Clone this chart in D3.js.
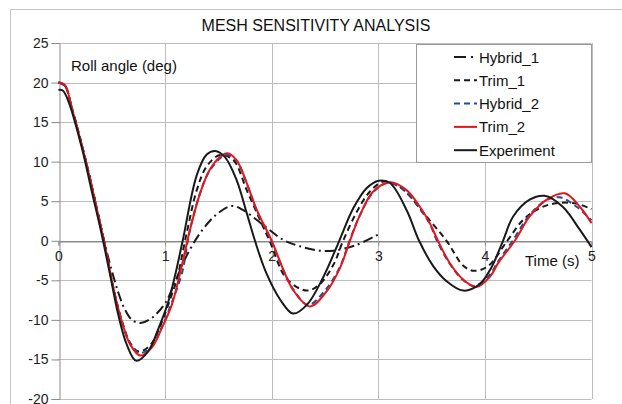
<!DOCTYPE html>
<html>
<head>
<meta charset="utf-8">
<script src="https://cdn.jsdelivr.net/npm/d3@7"></script>
<style>
  html, body { margin: 0; padding: 0; background: #fff; }
  svg { display: block; font-family: "Liberation Sans", Arial, sans-serif; }
</style>
</head>
<body>
<svg id="chart" width="622" height="404"></svg>
<script>
// Roll angle decay: time (s) and roll angle (deg) for each run
const hybrid1T = [0, 0.06, 0.125, 0.25, 0.344, 0.44, 0.5, 0.56, 0.62, 0.69, 0.77, 0.87, 1.0, 1.1, 1.19, 1.33, 1.48, 1.625, 1.73, 1.92, 2.11, 2.265, 2.45, 2.58, 2.8, 3.0];
const hybrid1V = [20, 19.6, 16.8, 10.4, 5.0, -0.7, -3.8, -6.5, -8.6, -10.0, -10.4, -9.8, -7.9, -5.0, -2.2, 1.0, 3.3, 4.4, 3.9, 2.0, 0.1, -0.7, -1.25, -1.25, -0.5, 0.8];

const trim1T = [0, 0.06, 0.125, 0.25, 0.344, 0.44, 0.515, 0.594, 0.672, 0.75, 0.86, 0.96, 1.06, 1.11, 1.203, 1.297, 1.39, 1.515, 1.64, 1.766, 1.89, 1.98, 2.14, 2.33, 2.45, 2.58, 2.67, 2.8, 2.92, 3.05, 3.18, 3.3, 3.45, 3.64, 3.8, 3.9, 4.03, 4.21, 4.36, 4.51, 4.67, 4.86, 5.0];
const trim1V = [20, 19.6, 16.8, 10.5, 5.0, -0.9, -6.0, -10.1, -12.9, -14.0, -13.2, -10.6, -6.9, -4.9, 1.0, 6.4, 9.4, 10.85, 10.2, 6.4, 2.65, 0, -4.8, -6.3, -5.5, -3.0, 0, 3.7, 6.2, 7.5, 7.0, 5.6, 3.1, 0, -3.2, -3.8, -3.2, 0, 2.65, 4.1, 4.75, 4.7, 4.0];

const hybrid2T = [0, 0.06, 0.125, 0.25, 0.344, 0.44, 0.515, 0.594, 0.672, 0.755, 0.87, 0.97, 1.06, 1.16, 1.228, 1.325, 1.42, 1.57, 1.67, 1.766, 1.86, 1.995, 2.11, 2.2, 2.34, 2.5, 2.64, 2.73, 2.83, 2.95, 3.09, 3.24, 3.38, 3.48, 3.55, 3.67, 3.79, 3.9, 4.04, 4.12, 4.26, 4.41, 4.56, 4.7, 4.86, 5.0];
const hybrid2V = [20, 19.6, 16.8, 10.4, 5.0, -0.9, -6.0, -10.2, -13.0, -14.2, -13.4, -10.9, -7.9, -4.0, 1.1, 5.9, 8.9, 10.85, 10.1, 7.2, 3.8, 0, -3.7, -6.1, -8.1, -6.3, -3.3, 0, 3.3, 6.1, 7.3, 6.4, 4.2, 2.2, 0, -2.9, -4.9, -5.7, -4.4, -2.7, 0, 3.1, 5.0, 5.5, 4.3, 2.6];

const trim2T = [0, 0.06, 0.125, 0.25, 0.344, 0.44, 0.515, 0.594, 0.672, 0.766, 0.875, 0.97, 1.063, 1.14, 1.234, 1.328, 1.42, 1.515, 1.584, 1.67, 1.766, 1.86, 2.0, 2.11, 2.2, 2.359, 2.515, 2.64, 2.734, 2.83, 2.95, 3.11, 3.265, 3.39, 3.484, 3.56, 3.67, 3.796, 3.92, 4.05, 4.125, 4.28, 4.42, 4.58, 4.75, 4.89, 5.0];
const trim2V = [20, 19.7, 16.75, 10.4, 4.96, -0.9, -6.0, -10.2, -13.1, -14.5, -13.5, -11.0, -8.1, -4.1, 1.4, 6.0, 9.0, 10.6, 11.07, 10.2, 7.3, 3.9, 0, -3.7, -6.2, -8.3, -6.4, -3.45, 0, 3.3, 6.2, 7.4, 6.4, 4.3, 2.2, 0, -2.8, -4.9, -5.85, -4.5, -2.8, 0, 3.07, 5.2, 6.0, 4.3, 2.23];

const experimentT = [0, 0.04, 0.094, 0.22, 0.313, 0.406, 0.484, 0.56, 0.64, 0.728, 0.84, 0.94, 1.03, 1.1, 1.165, 1.297, 1.39, 1.469, 1.56, 1.67, 1.766, 1.843, 1.95, 2.08, 2.2, 2.33, 2.48, 2.634, 2.765, 2.89, 3.005, 3.11, 3.265, 3.383, 3.515, 3.64, 3.796, 3.95, 4.06, 4.17, 4.265, 4.42, 4.56, 4.73, 4.89, 5.0];
const experimentV = [19.07, 19.0, 17.6, 11.7, 6.2, 0.76, -4.3, -9.3, -13.1, -15.15, -14.0, -11.0, -7.7, -4.0, 0, 8.3, 10.9, 11.36, 10.6, 7.7, 3.5, 0, -4.1, -7.45, -9.2, -8.1, -4.7, 0, 4.1, 6.65, 7.6, 7.3, 3.9, 0, -3.2, -5.1, -6.3, -5.5, -3.4, 0, 3.07, 5.2, 5.68, 4.3, 1.4, -0.8];

const seriesNames = ["Hybrid_1", "Trim_1", "Hybrid_2", "Trim_2", "Experiment"];
const xTicks = [0, 1, 2, 3, 4, 5];
const yTicks = [-20, -15, -10, -5, 0, 5, 10, 15, 20, 25];

const chartTitle = "MESH SENSITIVITY ANALYSIS";
const yTitle = "Roll angle (deg)";
const xTitle = "Time (s)";

const series = [
  { name: seriesNames[0], t: hybrid1T, v: hybrid1V, color: "#1a1a1a", dash: "10,4,2,4" },
  { name: seriesNames[1], t: trim1T, v: trim1V, color: "#1a1a1a", dash: "6,4" },
  { name: seriesNames[2], t: hybrid2T, v: hybrid2V, color: "#1f4e8c", dash: "6,4" },
  { name: seriesNames[3], t: trim2T, v: trim2V, color: "#e3161c", dash: null },
  { name: seriesNames[4], t: experimentT, v: experimentV, color: "#1a1a1a", dash: null }
];

const svg = d3.select("#chart");
const fontFamily = "Liberation Sans, Arial, sans-serif";

// outer chart frame
svg.append("rect")
  .attr("x", 10.5).attr("y", 9.5)
  .attr("width", 700).attr("height", 500)
  .attr("fill", "none").attr("stroke", "#c6c6c6").attr("stroke-width", 1);

const x = d3.scaleLinear().domain([0, 5]).range([58.5, 591.5]);
const y = d3.scaleLinear().domain([-20, 25]).range([399, 43]);

// gridlines
const grid = svg.append("g");
grid.selectAll("line.h").data(yTicks).join("line")
  .attr("x1", x(0)).attr("x2", x(5))
  .attr("y1", d => Math.round(y(d)) + 0.5).attr("y2", d => Math.round(y(d)) + 0.5)
  .attr("stroke", d => d === 0 ? "#8a8a8a" : "#bdbdbd").attr("stroke-width", 1);
grid.selectAll("line.v").data(xTicks.slice(1)).join("line")
  .attr("x1", d => Math.round(x(d)) + 0.5).attr("x2", d => Math.round(x(d)) + 0.5)
  .attr("y1", y(25)).attr("y2", y(-20))
  .attr("stroke", "#bdbdbd").attr("stroke-width", 1);

// y axis
const yAxis = svg.append("g")
  .attr("transform", `translate(${Math.round(x(0)) + 0.5},0)`)
  .call(d3.axisLeft(y).tickValues(yTicks).tickSize(8).tickPadding(3).tickFormat(d => String(d)));
yAxis.select(".domain").attr("stroke", "#8a8a8a");
yAxis.selectAll(".tick line").attr("stroke", "#8a8a8a");
yAxis.selectAll("text").attr("font-size", 14).attr("fill", "#222")
  .attr("font-family", fontFamily);

// x axis drawn along the zero line
const xAxis = svg.append("g")
  .attr("transform", `translate(0,${Math.round(y(0)) + 0.5})`)
  .call(d3.axisBottom(x).tickValues(xTicks).tickSize(4).tickPadding(6).tickFormat(d => String(d)));
xAxis.select(".domain").attr("stroke", "#8a8a8a");
xAxis.selectAll(".tick line").attr("stroke", "#8a8a8a");
xAxis.selectAll("text").attr("font-size", 14).attr("fill", "#222")
  .attr("font-family", fontFamily);

// series lines
const line = d3.line()
  .x(d => x(d[0]))
  .y(d => y(d[1]))
  .curve(d3.curveCatmullRom.alpha(0.5));

svg.append("g").selectAll("path").data(series).join("path")
  .attr("d", s => line(s.t.map((t, i) => [t, s.v[i]])))
  .attr("fill", "none")
  .attr("stroke", s => s.color)
  .attr("stroke-width", 2)
  .attr("stroke-dasharray", s => s.dash)
  .attr("stroke-linejoin", "round");

// titles
svg.append("text").attr("x", 316).attr("y", 31)
  .attr("text-anchor", "middle").attr("font-size", 16).attr("fill", "#111")
  .text(chartTitle);
svg.append("text").attr("x", 71).attr("y", 71)
  .attr("font-size", 15).attr("fill", "#111")
  .text(yTitle);
svg.append("text").attr("x", 525).attr("y", 266)
  .attr("font-size", 15).attr("fill", "#111")
  .text(xTitle);

// legend
const legend = svg.append("g");
legend.append("rect")
  .attr("x", 416.5).attr("y", 44.5).attr("width", 175).attr("height", 118)
  .attr("fill", "#fff").attr("stroke", "#9a9a9a");
const rows = legend.selectAll("g.row").data(series).join("g")
  .attr("transform", (d, i) => `translate(0,${57 + i * 23.3})`);
rows.append("line")
  .attr("x1", 454).attr("x2", 477).attr("y1", 0).attr("y2", 0)
  .attr("stroke", d => d.color).attr("stroke-width", 2)
  .attr("stroke-dasharray", d => d.dash === "10,4,2,4" ? "12,5,2,4" : d.dash);
rows.append("text")
  .attr("x", 479).attr("y", 5.5)
  .attr("font-size", 15).attr("fill", "#111")
  .text(d => d.name);
</script>
</body>
</html>
